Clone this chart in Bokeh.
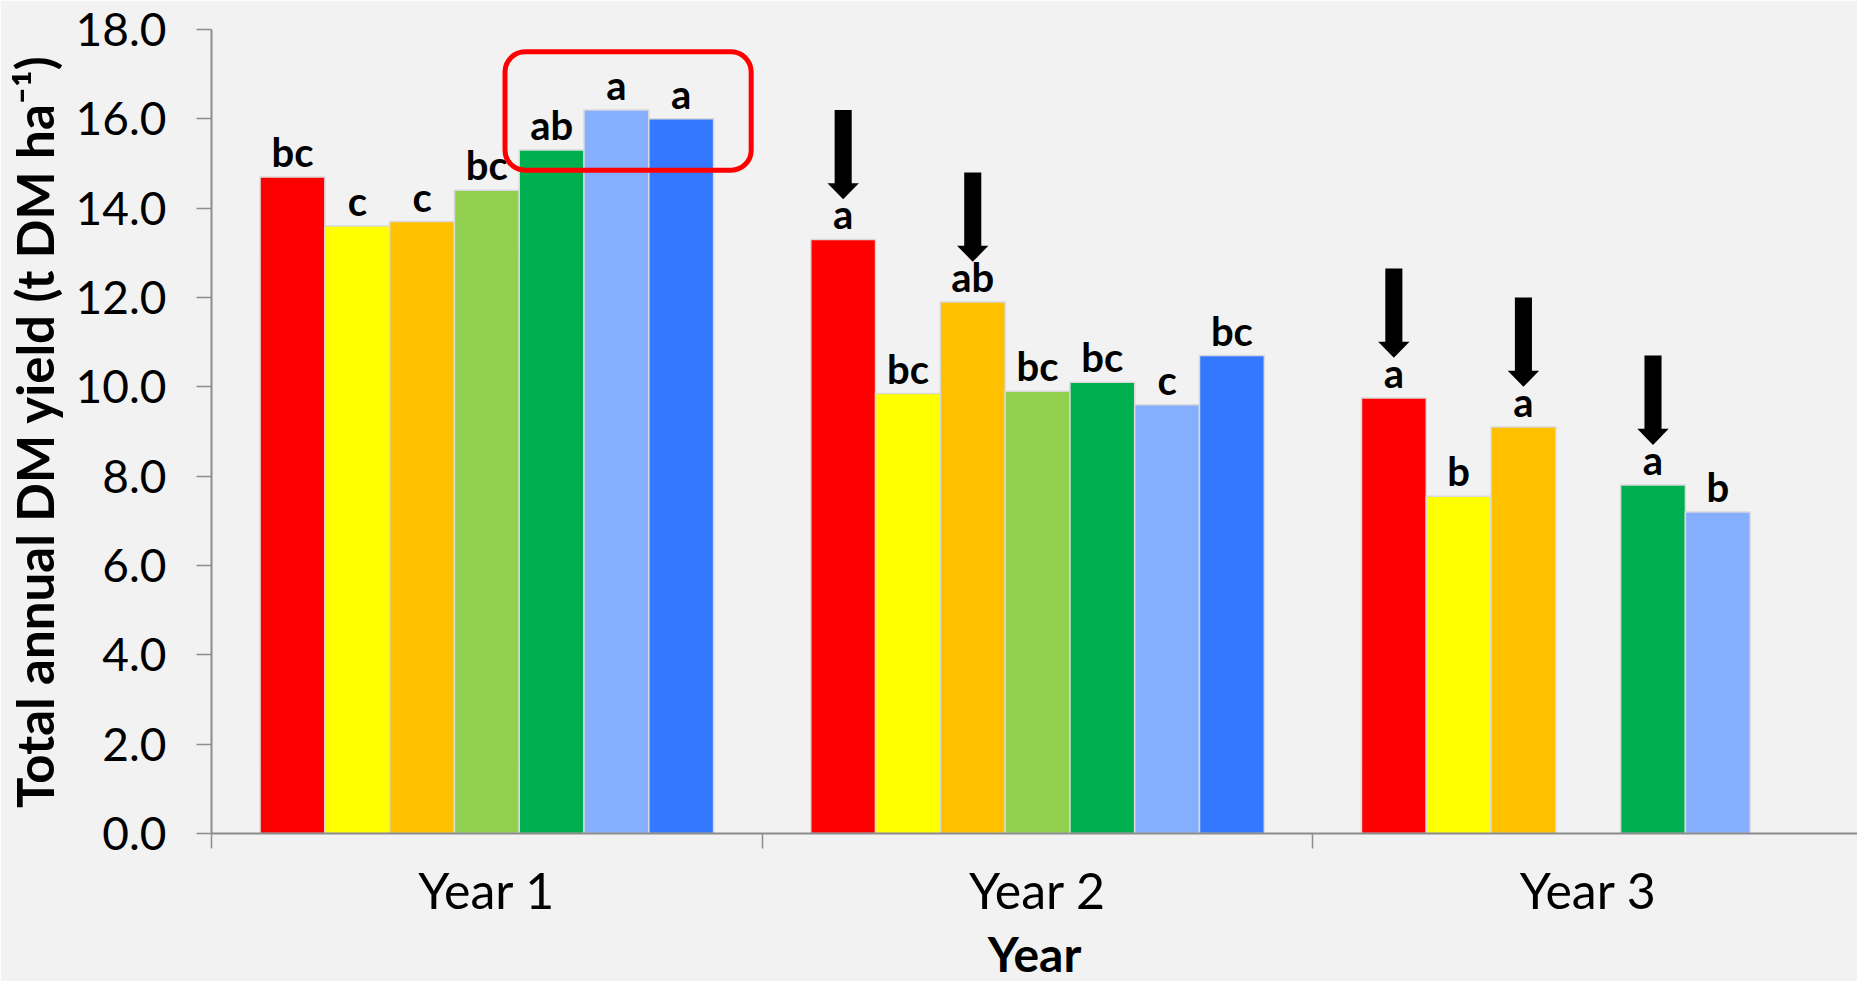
from bokeh.plotting import figure
from bokeh.models import (Range1d, FixedTicker, NumeralTickFormatter, BoxAnnotation,
                          ColumnDataSource, Title)
from bokeh.core.properties import value
from bokeh.embed import file_html
from bokeh.resources import INLINE

nan = float("nan")

# ---------------- data ----------------
years = ["Year 1", "Year 2", "Year 3"]
series_colors = ["#FF0000", "#FFFF00", "#FFC000", "#92D050", "#00B050", "#86AEFF", "#3478FF"]

s1 = [14.7, 13.3, 9.75]
s2 = [13.6, 9.85, 7.55]
s3 = [13.7, 11.9, 9.1]
s4 = [14.4, 9.9, nan]
s5 = [15.3, 10.1, 7.8]
s6 = [16.2, 9.6, 7.2]
s7 = [16.0, 10.7, nan]

l1 = ["bc", "a", "a"]
l2 = ["c", "bc", "b"]
l3 = ["c", "ab", "a"]
l4 = ["bc", "bc", ""]
l5 = ["ab", "bc", "a"]
l6 = ["a", "c", "b"]
l7 = ["a", "bc", ""]

series_values = [s1, s2, s3, s4, s5, s6, s7]
series_letters = [l1, l2, l3, l4, l5, l6, l7]

# arrows: (year index, series index)
arrow_targets = [(1, 0), (1, 2), (2, 0), (2, 2), (2, 4)]

y_ticks = [0, 2, 4, 6, 8, 10, 12, 14, 16, 18]

# ---------------- figure ----------------
FONT = "Lato"
AX = "#8C8C8C"
BG = "#F2F2F2"

p = figure(width=1857, height=981, output_backend="svg", toolbar_location=None,
           x_range=Range1d(0, 2.989), y_range=Range1d(0, 18),
           background_fill_color=BG, border_fill_color=BG,
           min_border_left=210, min_border_top=29, min_border_bottom=148, min_border_right=0)
p.outline_line_color = None
p.xgrid.visible = False
p.ygrid.visible = False

n = len(series_values)
w = 1.0 / 8.5

xs, tops, cols, lx, ly, lt = [], [], [], [], [], []
for i, (vals, lets) in enumerate(zip(series_values, series_letters)):
    for j, v in enumerate(vals):
        if v != v:
            continue
        xc = j + 0.5 + (i - (n - 1) / 2) * w
        xs.append(xc); tops.append(v); cols.append(series_colors[i])
        lx.append(xc); ly.append(v); lt.append(lets[j])

src = ColumnDataSource(dict(x=xs, top=tops, color=cols))
p.vbar(x="x", top="top", width=w, bottom=0, fill_color="color", line_color="#D9D9D9",
       line_width=1.5, source=src)

p.text(x=lx, y=ly, text=lt, text_align="center", text_baseline="bottom", y_offset=-1,
       text_font=value(FONT), text_font_style="bold", text_font_size="40px", text_color="black")

# arrows
head_h = 0.36
shaft_w = 0.031
head_w = 0.057
ax_x, ax_top, ax_bot, hx, hy = [], [], [], [], []
for (j, i) in arrow_targets:
    xc = j + 0.5 + (i - (n - 1) / 2) * w
    tip = series_values[i][j] + 0.9
    ax_x.append(xc); ax_bot.append(tip + head_h - 0.02); ax_top.append(tip + 2.0)
    hx.append([xc - head_w / 2, xc + head_w / 2, xc])
    hy.append([tip + head_h, tip + head_h, tip])
p.vbar(x=ax_x, bottom=ax_bot, top=ax_top, width=shaft_w, fill_color="black", line_color=None)
p.patches(xs=hx, ys=hy, fill_color="black", line_color=None)

# highlight box
box = BoxAnnotation(left=0.533, right=0.98, bottom=14.85, top=17.5, fill_alpha=0,
                    line_color="#FF0000", line_alpha=1.0, line_width=5, border_radius=20)
p.add_layout(box)

# axes
xa = p.xaxis[0]
xa.ticker = FixedTicker(ticks=[0.5, 1.5, 2.5], minor_ticks=[0, 1, 2, 3])
xa.major_label_overrides = {0.5: years[0], 1.5: years[1], 2.5: years[2]}
xa.major_tick_out = 0
xa.major_tick_in = 0
xa.minor_tick_out = 15
xa.minor_tick_in = 0
xa.minor_tick_line_color = AX
xa.minor_tick_line_width = 1.5
xa.axis_line_color = AX
xa.axis_line_width = 2
xa.major_label_text_font = FONT
xa.major_label_text_font_size = "50px"
xa.major_label_text_color = "black"
xa.major_label_standoff = 11

x_title = Title(text="Year", align="center", text_font=FONT, text_font_style="bold",
                text_font_size="48px", text_color="black", standoff=0, offset=0)
p.add_layout(x_title, "below")

ya = p.yaxis[0]
ya.ticker = FixedTicker(ticks=y_ticks, minor_ticks=[])
ya.formatter = NumeralTickFormatter(format="0.0")
ya.major_tick_out = 15
ya.major_tick_in = 0
ya.major_tick_line_color = AX
ya.major_tick_line_width = 1.5
ya.axis_line_color = AX
ya.axis_line_width = 2
ya.major_label_text_font = FONT
ya.major_label_text_font_size = "46px"
ya.major_label_text_color = "black"
ya.major_label_standoff = 30
ya.axis_label = "Total annual DM yield (t DM ha\u207b\u00b9)"
ya.axis_label_text_font = FONT
ya.axis_label_text_font_style = "bold"
ya.axis_label_text_font_size = "51px"
ya.axis_label_text_color = "black"
ya.axis_label_standoff = 8

html = file_html(p, INLINE)
html = html.replace("<body>", '<body style="background-color:#F2F2F2;margin:0;overflow:hidden;">', 1)
open("out.html", "w").write(html)
